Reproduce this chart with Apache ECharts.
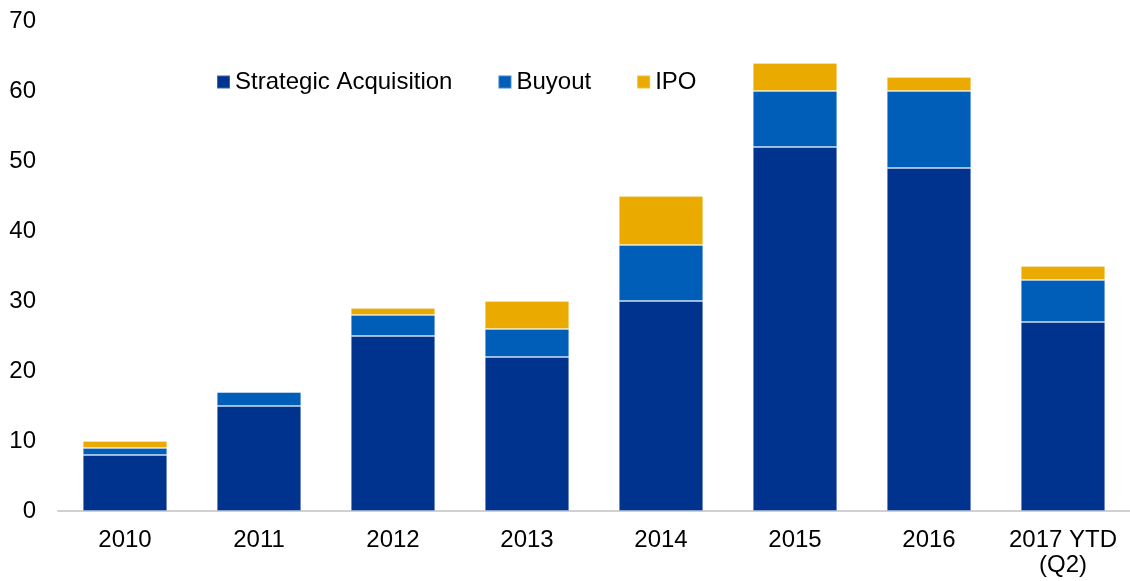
<!DOCTYPE html>
<html>
<head>
<meta charset="utf-8">
<script src="https://cdn.jsdelivr.net/npm/echarts@6/dist/echarts.min.js"></script>
<style>
    html, body { margin: 0; padding: 0; background: #fff; }
    #main { width: 1130px; height: 581px; }
</style>
</head>
<body>
<div id="main"></div>
<script>
// 年份
const categories = ['2010', '2011', '2012', '2013', '2014', '2015', '2016', '2017 YTD\n(Q2)'];
// 各类退出数量
const strategicAcq = [8, 15, 25, 22, 30, 52, 49, 27];
const buyout = [1, 2, 3, 4, 8, 8, 11, 6];
const ipo = [1, 0, 1, 4, 7, 4, 2, 2];
const yTicks = [0, 10, 20, 30, 40, 50, 60, 70];

let chart = echarts.init(document.getElementById('main'));

const font = 'Liberation Sans, Arial, sans-serif';

const barStyle = (color) => ({
    color: color,
    borderColor: 'rgba(255,255,255,0.25)',
    borderWidth: 1
});

let option = {
    animation: false,
    textStyle: { fontFamily: font },
    legend: {
        left: 211,
        top: 65,
        itemWidth: 13,
        itemHeight: 13,
        itemGap: 45,
        icon: 'rect',
        textStyle: { fontSize: 24, color: '#000', fontFamily: font },
        data: ['Strategic Acquisition', 'Buyout', 'IPO']
    },
    grid: {
        left: 58,
        right: 0,
        top: 21,
        bottom: 70
    },
    xAxis: {
        type: 'category',
        data: categories,
        axisLine: { lineStyle: { color: '#d0d0d0', width: 2 } },
        axisTick: { show: false },
        axisLabel: {
            interval: 0,
            color: '#000',
            fontSize: 24,
            fontFamily: font,
            margin: 17,
            lineHeight: 25
        }
    },
    yAxis: {
        type: 'value',
        min: yTicks[0],
        max: yTicks[yTicks.length - 1],
        interval: 10,
        splitLine: { show: false },
        axisLine: { show: false },
        axisTick: { show: false },
        axisLabel: {
            color: '#000',
            fontSize: 24,
            fontFamily: font,
            margin: 22
        }
    },
    series: [
        {
            name: 'Strategic Acquisition',
            type: 'bar',
            stack: 'total',
            barWidth: '63%',
            itemStyle: barStyle('#00338D'),
            data: strategicAcq
        },
        {
            name: 'Buyout',
            type: 'bar',
            stack: 'total',
            itemStyle: barStyle('#005EB8'),
            data: buyout
        },
        {
            name: 'IPO',
            type: 'bar',
            stack: 'total',
            itemStyle: barStyle('#EAAA00'),
            data: ipo
        }
    ]
};
chart.setOption(option);
</script>
</body>
</html>
